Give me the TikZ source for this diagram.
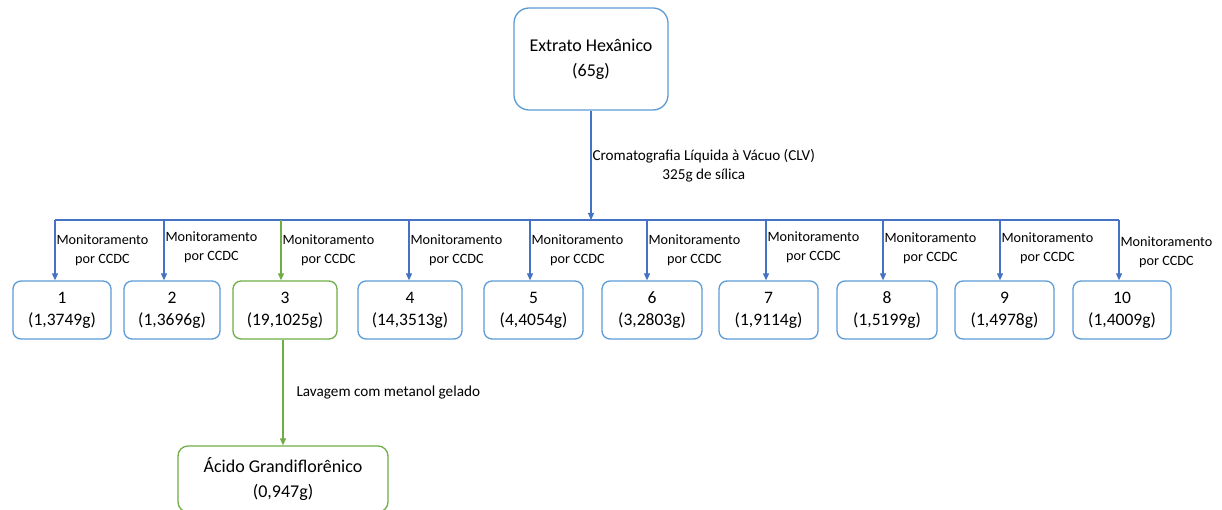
\documentclass[tikz,border=0pt]{standalone}
\usepackage{fontspec}
\setmainfont{Carlito}
\usetikzlibrary{arrows.meta}
\definecolor{lineblue}{RGB}{68,114,196}
\definecolor{boxblue}{RGB}{91,155,213}
\definecolor{boxgreen}{RGB}{112,173,71}

\begin{document}
\begin{tikzpicture}[x=1pt, y=-1pt,
	link/.style={draw=lineblue, line width=1.1pt},
	arrow/.style={link, -{Triangle[length=7pt, width=6pt]}},
	greenarrow/.style={arrow, draw=boxgreen, fill=boxgreen},
	fraction/.style={draw=boxblue, line width=1.3pt, rounded corners=8pt, align=center,
		minimum width=98pt, minimum height=58pt, inner sep=2pt,
		font=\fontsize{17.5}{22}\selectfont},
	bigbox/.style={fraction, rounded corners=15pt, font=\fontsize{18}{25}\selectfont},
	note/.style={align=center, inner sep=1pt, font=\fontsize{15.2}{19}\selectfont},
	ccdc/.style={note, font=\fontsize{14.2}{19}\selectfont}]
	\useasboundingbox (0,0) rectangle (1222,510);
	% starting extract
	\node[bigbox, minimum width=154pt, minimum height=102pt] (top) at (591,59) {Extrato Hexânico\\(65g)};
	% fractions of the column
	\node[fraction] (f1) at (62,310) {1\\(1,3749g)};
	\node[fraction, minimum width=96pt] (f2) at (172,310) {2\\(1,3696g)};
	\node[fraction, draw=boxgreen, minimum width=104pt] (f3) at (285,310) {3\\(19,1025g)};
	\node[fraction, minimum width=104pt] (f4) at (410,310) {4\\(14,3513g)};
	\node[fraction, minimum width=99pt] (f5) at (533.5,310) {5\\(4,4054g)};
	\node[fraction, minimum width=100pt] (f6) at (652,310) {6\\(3,2803g)};
	\node[fraction, minimum width=99pt] (f7) at (768.5,310) {7\\(1,9114g)};
	\node[fraction, minimum width=100pt] (f8) at (887,310) {8\\(1,5199g)};
	\node[fraction, minimum width=99pt] (f9) at (1004.5,310) {9\\(1,4978g)};
	\node[fraction] (f10) at (1122,310) {10\\(1,4009g)};
	% pure compound
	\node[bigbox, draw=boxgreen, rounded corners=10pt, minimum width=210pt, minimum height=66pt] (acid) at (283,479) {Ácido Grandiflorênico\\(0,947g)};
	% bus line
	\coordinate (d1) at (55,220);
	\coordinate (d2) at (164,220);
	\coordinate (d3) at (281,220);
	\coordinate (d4) at (409,220);
	\coordinate (d5) at (530,220);
	\coordinate (d6) at (647,220);
	\coordinate (d7) at (766,220);
	\coordinate (d8) at (883,220);
	\coordinate (d9) at (1000,220);
	\coordinate (d10) at (1119,220);
	\draw[arrow] (top.south) -- (top.south |- d1)
		node[note, midway, right] {Cromatografia Líquida à Vácuo (CLV)\\325g de sílica};
	\draw[link] (d1) -- (d10);
	% drops to the fractions
	\draw[arrow] (d1) -- (d1 |- f1.north) node[ccdc, midway, right] {Monitoramento\\por CCDC};
	\draw[arrow] (d2) -- (d2 |- f2.north) node[ccdc, midway, right, yshift=3pt] {Monitoramento\\por CCDC};
	\draw[greenarrow] (d3) -- (d3 |- f3.north) node[ccdc, midway, right] {Monitoramento\\por CCDC};
	\draw[arrow] (d4) -- (d4 |- f4.north) node[ccdc, midway, right] {Monitoramento\\por CCDC};
	\draw[arrow] (d5) -- (d5 |- f5.north) node[ccdc, midway, right] {Monitoramento\\por CCDC};
	\draw[arrow] (d6) -- (d6 |- f6.north) node[ccdc, midway, right] {Monitoramento\\por CCDC};
	\draw[arrow] (d7) -- (d7 |- f7.north) node[ccdc, midway, right, yshift=3pt] {Monitoramento\\por CCDC};
	\draw[arrow] (d8) -- (d8 |- f8.north) node[ccdc, midway, right, yshift=2pt] {Monitoramento\\por CCDC};
	\draw[arrow] (d9) -- (d9 |- f9.north) node[ccdc, midway, right, yshift=2pt] {Monitoramento\\por CCDC};
	\draw[arrow] (d10) -- (d10 |- f10.north) node[ccdc, midway, right, yshift=-2pt] {Monitoramento\\por CCDC};
	% washing step
	\draw[greenarrow] (acid.north |- f3.south) -- (acid.north)
		node[note, midway, right, xshift=12pt] {Lavagem com metanol gelado};
\end{tikzpicture}
\end{document}
